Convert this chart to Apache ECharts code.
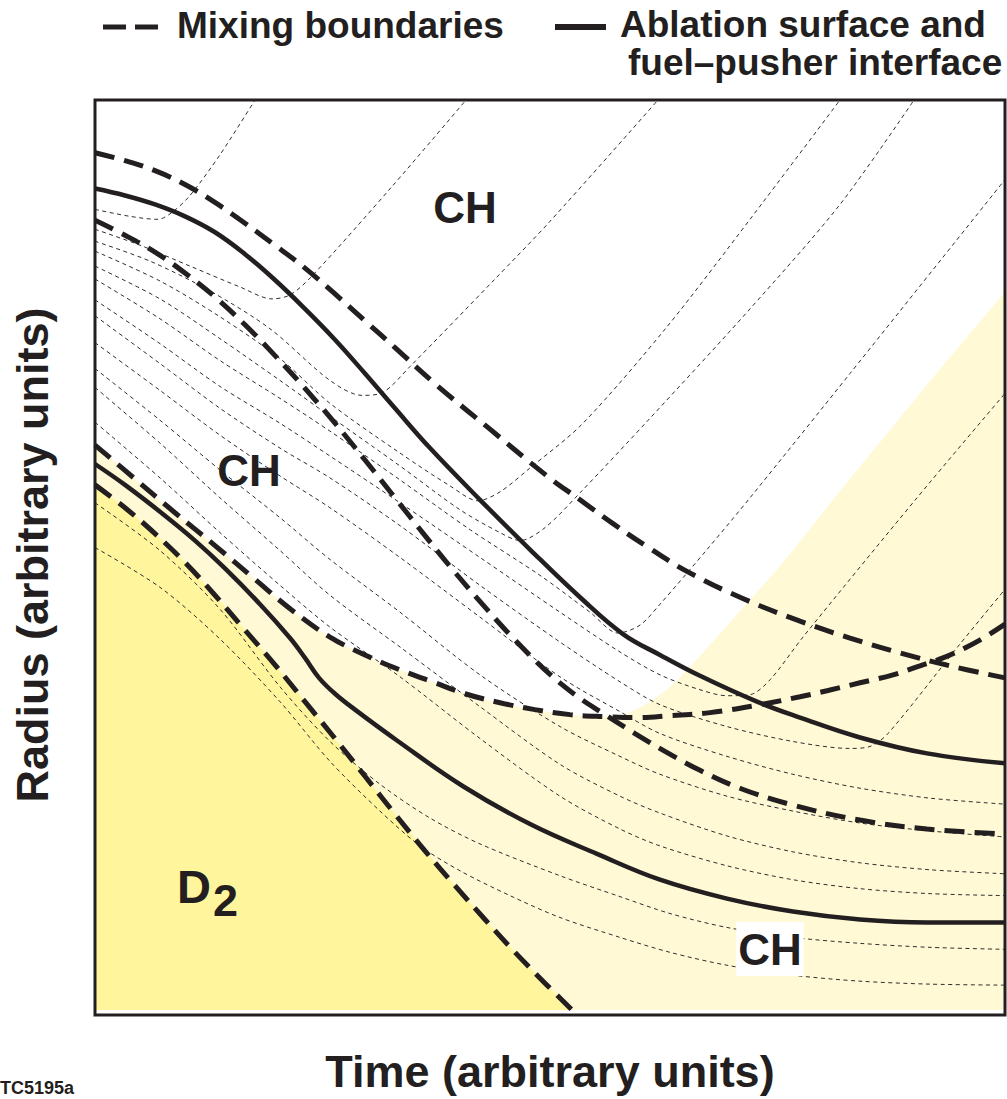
<!DOCTYPE html>
<html>
<head>
<meta charset="utf-8">
<title>Mixing boundaries</title>
<script src="https://cdn.jsdelivr.net/npm/echarts@6/dist/echarts.min.js"></script>
<style>
  html, body { margin: 0; padding: 0; background: #fff; }
  #chart { width: 1007px; height: 1099px; }
</style>
</head>
<body>
<div id="chart"></div>
<script>
// thick boundaries, [time, radius] in arbitrary units
const mixOuter = [[0,862],[30,854],[60,844],[90,830],[120,812],[150,791],[180,769],[210,746],[240,720],[270,693],[300,666],[342,628],[395,584],[452,537],[485,513],[518,489],[555,464],[592,441],[645,415],[705,391],[755,374],[805,359],[855,346],[910,334]];
const ablation = [[0,826],[30,819],[60,810],[90,798],[120,782],[150,760],[180,734],[210,705],[240,674],[270,640],[300,605],[335,565],[385,513],[435,463],[485,415],[528,378],[565,357],[605,336],[662,310],[705,294],[765,274],[832,258],[910,248]];
const mixInner = [[0,794],[30,779],[60,762],[90,741],[120,717],[150,689],[180,658],[210,625],[240,590],[270,553],[300,515],[330,477],[360,440],[390,405],[420,372],[450,342],[480,317],[510,297],[540,278],[570,260],[605,241],[645,223],[698,206],[765,191],[832,182],[910,177]];
const mixBowl = [[0,568],[40,534],[80,500],[120,467],[160,433],[197,402],[235,375],[270,357],[305,342],[340,329],[370,318],[405,309],[440,302],[475,297],[510,295],[545,294],[575,296],[615,299],[665,307],[705,315],[732,321],[765,329],[798,337],[825,346],[848,354],[870,364],[890,375],[910,388]];
const fuelPusher = [[0,549],[30,528],[65,501],[100,472],[130,444],[165,408],[195,374],[210,354],[224,334],[240,318],[260,302],[302,271],[368,225],[435,187],[502,157],[565,131],[632,112],[698,99],[765,91],[832,88],[910,88]];
const mixFuel = [[0,528],[30,505],[60,479],[90,450],[120,417],[150,382],[180,347],[210,310],[240,273],[270,235],[300,197],[330,160],[360,125],[390,91],[420,58],[450,27],[477,0]];

// edge of the lightly shaded (heated) CH
const heatedEdge = [[0,568],[40,534],[80,500],[120,467],[160,433],[197,402],[235,375],[270,357],[305,342],[340,329],[370,318],[405,309],[440,302],[475,297],[505,295],[530,298],[555,310],[575,325],[595,345],[622,375],[645,401],[688,450],[738,513],[825,620],[910,722]];

// thin flow lines
const flow1 = [[0,805],[35,798],[63,795],[77,802],[95,819],[125,860],[160,915]];
const flow2 = [[0,785],[45,769],[95,748],[145,727],[177,715],[195,719],[217,738],[297,828],[371,915]];
const flow3 = [[0,773],[55,753],[115,723],[175,685],[235,633],[267,618],[288,621],[315,647],[400,735],[455,793],[563,915]];
const flow4 = [[0,763],[65,733],[125,697],[185,655],[235,610],[305,560],[355,527],[383,512],[405,521],[435,545],[488,590],[572,687],[655,795],[745,915]];
const flow5 = [[0,748],[65,715],[125,675],[185,633],[235,597],[305,547],[365,503],[405,480],[425,472],[450,485],[485,520],[555,595],[655,705],[745,810],[819,915]];
const flow6 = [[0,735],[65,695],[125,653],[185,615],[235,582],[305,533],[375,483],[445,437],[495,400],[523,379],[545,387],[565,408],[612,463],[655,515],[755,640],[910,835]];
const flow7 = [[0,714],[65,670],[125,627],[185,590],[235,557],[305,510],[385,455],[465,400],[525,360],[565,337],[605,322],[632,316],[655,317],[675,332],[708,375],[822,515],[910,620]];
const flow8 = [[0,698],[65,650],[125,605],[185,565],[235,535],[305,487],[385,427],[465,370],[525,330],[565,307],[632,285],[698,270],[755,263],[775,265],[793,278],[865,368],[910,423]];
const flow9 = [[0,671],[65,623],[125,578],[185,537],[235,505],[305,455],[385,395],[465,335],[525,300],[565,278],[632,255],[698,237],[765,223],[835,213],[910,207]];
const flow10 = [[0,645],[65,593],[125,543],[185,495],[235,453],[305,400],[385,337],[465,285],[525,255],[565,237],[632,215],[698,200],[765,188],[835,180],[910,174]];
const flow11 = [[0,626],[65,570],[125,515],[185,462],[235,417],[305,365],[385,305],[465,247],[525,215],[565,198],[632,175],[698,159],[765,148],[835,141],[910,137]];
const flow12 = [[0,591],[65,535],[125,480],[185,427],[235,385],[305,335],[385,273],[465,215],[525,182],[565,165],[632,145],[698,131],[765,122],[835,117],[910,115]];
const flow13 = [[0,510],[65,462],[125,403],[185,325],[235,270],[285,227],[335,193],[385,167],[465,135],[525,114],[575,97],[632,83],[698,73],[765,67],[835,63],[910,61]];
const flow14 = [[0,465],[65,425],[125,373],[185,310],[235,250],[285,200],[325,165],[365,140],[415,115],[465,93],[525,73],[575,58],[632,45],[698,35],[765,29],[835,26],[910,25]];
const flowLines = [flow1, flow2, flow3, flow4, flow5, flow6, flow7, flow8, flow9, flow10, flow11, flow12, flow13, flow14];

const INK = '#231f20';
const FONT = '"Liberation Sans", Arial, Helvetica, sans-serif';

function fill(data, color) {
    return {
        type: 'line', data: data, smooth: 0.3, showSymbol: false, silent: true, z: 1,
        lineStyle: { width: 0 },
        areaStyle: { color: color, opacity: 1, origin: 'start' }
    };
}

function boundary(data, dashed) {
    return {
        type: 'line', data: data, smooth: 0.4, showSymbol: false, silent: true, z: 4,
        lineStyle: { color: INK, width: dashed ? 5 : 4.5, type: dashed ? [20, 10] : 'solid', cap: 'butt' }
    };
}

function thin(data) {
    return {
        type: 'line', data: data, smooth: 0.3, showSymbol: false, silent: true, z: 3,
        lineStyle: { color: '#2e2e2e', width: 1, type: [4, 3.5] }
    };
}

let series = [
    fill(heatedEdge, '#fff9d6'),
    fill(mixFuel, '#fff59c')
];
flowLines.forEach(l => series.push(thin(l)));
series.push(boundary(mixOuter, true));
series.push(boundary(ablation, false));
series.push(boundary(mixInner, true));
series.push(boundary(mixBowl, true));
series.push(boundary(fuelPusher, false));
series.push(boundary(mixFuel, true));

function txt(text, x, y, size, align) {
    return {
        type: 'text', x: x, y: y, z: 50,
        style: {
            text: text, fill: INK, font: 'bold ' + size + 'px ' + FONT,
            textAlign: align, align: align, textVerticalAlign: 'middle', verticalAlign: 'middle'
        }
    };
}

let chart = echarts.init(document.getElementById('chart'), null, { renderer: 'svg' });
chart.setOption({
    animation: false,
    backgroundColor: '#fff',
    grid: { left: 95, top: 100, width: 910, height: 915 },
    xAxis: {
        type: 'value', min: 0, max: 910,
        name: 'Time (arbitrary units)', nameLocation: 'middle', nameGap: 39,
        nameTextStyle: { fontSize: 45, fontWeight: 'bold', fontFamily: FONT, color: INK },
        axisLine: { show: false }, axisTick: { show: false }, axisLabel: { show: false }, splitLine: { show: false }
    },
    yAxis: {
        type: 'value', min: 0, max: 915,
        name: 'Radius (arbitrary units)', nameLocation: 'middle', nameGap: 40, nameRotate: 90,
        nameTextStyle: { fontSize: 45, fontWeight: 'bold', fontFamily: FONT, color: INK },
        axisLine: { show: false }, axisTick: { show: false }, axisLabel: { show: false }, splitLine: { show: false }
    },
    series: series,
    graphic: [
        // plot frame
        { type: 'rect', z: 60, shape: { x: 95, y: 100, width: 910, height: 915 }, style: { fill: null, stroke: INK, lineWidth: 3 } },
        // legend
        { type: 'line', z: 60, shape: { x1: 103, y1: 27, x2: 126, y2: 27 }, style: { stroke: INK, lineWidth: 5 } },
        { type: 'line', z: 60, shape: { x1: 135, y1: 27, x2: 158, y2: 27 }, style: { stroke: INK, lineWidth: 5 } },
        txt('Mixing boundaries', 177, 25, 37, 'left'),
        { type: 'line', z: 60, shape: { x1: 555, y1: 27, x2: 606, y2: 27 }, style: { stroke: INK, lineWidth: 6 } },
        txt('Ablation surface and', 620, 24, 37, 'left'),
        txt('fuel\u2013pusher interface', 628, 62, 37, 'left'),
        // region labels
        txt('CH', 465, 207, 44, 'center'),
        txt('CH', 249, 470, 44, 'center'),
        txt('D', 177, 886, 47, 'left'),
        txt('2', 213, 900, 45, 'left'),
        {
            type: 'text', x: 770, y: 949, z: 50,
            style: {
                text: 'CH', fill: INK, font: 'bold 44px ' + FONT,
                textAlign: 'center', align: 'center', textVerticalAlign: 'middle', verticalAlign: 'middle',
                backgroundColor: '#fff', padding: [3, 2, 7, 2]
            }
        },
        txt('TC5195a', 0, 1088, 18, 'left')
    ]
});
</script>
</body>
</html>
